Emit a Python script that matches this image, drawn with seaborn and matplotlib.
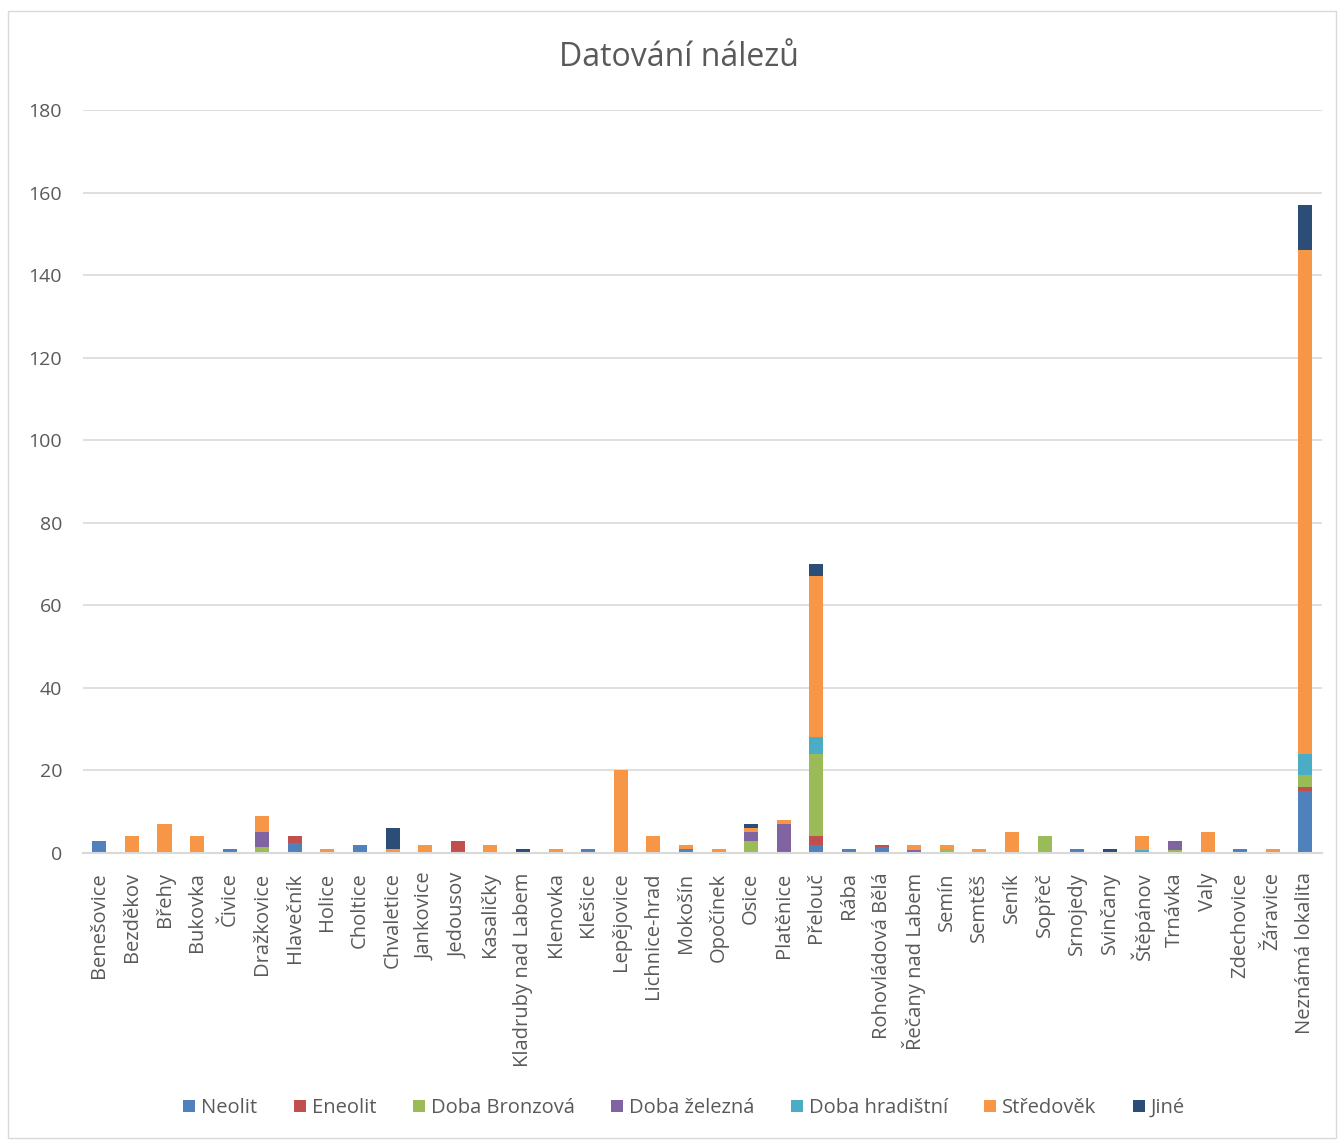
import matplotlib
matplotlib.use("Agg")
import matplotlib.pyplot as plt
import matplotlib.patches as mpatches
import seaborn as sns
import pandas as pd

locations = ["Benešovice", "Bezděkov", "Břehy", "Bukovka", "Čivice", "Dražkovice",
             "Hlavečník", "Holice", "Choltice", "Chvaletice", "Jankovice", "Jedousov",
             "Kasaličky", "Kladruby nad Labem", "Klenovka", "Klešice", "Lepějovice",
             "Lichnice-hrad", "Mokošín", "Opočínek", "Osice", "Platěnice", "Přelouč",
             "Rába", "Rohovládová Bělá", "Řečany nad Labem", "Semín", "Semtěš", "Seník",
             "Sopřeč", "Srnojedy", "Svinčany", "Štěpánov", "Trnávka", "Valy",
             "Zdechovice", "Žáravice", "Neznámá lokalita"]

periods = ["Neolit", "Eneolit", "Doba Bronzová", "Doba železná", "Doba hradištní", "Středověk", "Jiné"]

#                 Ben Bez Bře Buk Čiv Dra Hla Hol Cho Chv Jan Jed Kas Kla Kle Kleš Lep Lic Mok Opo Osi Pla Pře Ráb Roh Řeč Sem Semt Sen Sop Srn Svi Ště Trn Val Zde Žár Nez
neolit =         [3,  0,  0,  0,  1,  0,  2.3, 0, 2,  0,  0,  0,  0,  0,  0,  1,   0,  0,  1,  0,  0,  0,  2,  1, 1.5, 0,  0,  0,   0,  0,  1,  0,  0,  0,  0,  1,  0,  15]
eneolit =        [0,  0,  0,  0,  0,  0,  1.7, 0, 0,  0,  0,  3,  0,  0,  0,  0,   0,  0,  0,  0,  0,  0,  2,  0, 0.5, 0,  0,  0,   0,  0,  0,  0,  0,  0,  0,  0,  0,  1]
bronz =          [0,  0,  0,  0,  0, 1.5, 0,  0,  0,  0,  0,  0,  0,  0,  0,  0,   0,  0,  0,  0,  3,  0, 20,  0,  0,  0,  1,  0,   0,  4,  0,  0,  0, 0.8, 0,  0,  0,  3]
zelezna =        [0,  0,  0,  0,  0, 3.5, 0,  0,  0,  0,  0,  0,  0,  0,  0,  0,   0,  0,  0,  0,  2,  7,  0,  0,  0, 0.8, 0,  0,   0,  0,  0,  0,  0, 2.2, 0,  0,  0,  0]
hradistni =      [0,  0,  0,  0,  0,  0,  0,  0,  0,  0,  0,  0,  0,  0,  0,  0,   0,  0,  0,  0,  0,  0,  4,  0,  0,  0,  0,  0,   0,  0,  0,  0, 0.8, 0,  0,  0,  0,  5]
stredovek =      [0,  4,  7,  4,  0,  4,  0,  1,  0,  1,  2,  0,  2,  0,  1,  0,  20,  4,  1,  1,  1,  1, 39,  0,  0, 1.2, 1,  1,   5,  0,  0,  0, 3.2, 0,  5,  0,  1, 122]
jine =           [0,  0,  0,  0,  0,  0,  0,  0,  0,  5,  0,  0,  0,  1,  0,  0,   0,  0,  0,  0,  1,  0,  3,  0,  0,  0,  0,  0,   0,  0,  0,  1,  0,  0,  0,  0,  0,  11]

series = [neolit, eneolit, bronz, zelezna, hradistni, stredovek, jine]
colors = ["#4F81BD", "#C0504D", "#9BBB59", "#8064A2", "#4BACC6", "#F79646", "#2C4D75"]

yticks = [0, 20, 40, 60, 80, 100, 120, 140, 160, 180]

rows = []
for p, vals in zip(periods, series):
    for loc, v in zip(locations, vals):
        rows.append({"lokalita": loc, "obdobi": p, "pocet": v})
df = pd.DataFrame(rows)
df["lokalita"] = pd.Categorical(df["lokalita"], categories=locations, ordered=True)

sns.set_theme(style="white")
plt.rcParams["font.family"] = ["Open Sans", "DejaVu Sans"]

fig = plt.figure(figsize=(13.39, 11.40), dpi=100)
ax = fig.add_axes([0.062, 0.2518, 0.925, 0.6517])

rev_order = periods[::-1]
palette = dict(zip(periods, colors))
sns.histplot(data=df, x="lokalita", weights="pocet", hue="obdobi", hue_order=rev_order,
             multiple="stack", discrete=True, shrink=0.43, palette=palette,
             alpha=1, linewidth=0, legend=False, ax=ax)

ax.set_xlim(-0.5, len(locations) - 0.5)
ax.set_ylim(0, 180)
ax.set_yticks(yticks)
ax.set_yticklabels([str(t) for t in yticks], fontsize=14, color="#595959")
ax.set_xticks(range(len(locations)))
ax.set_xticklabels(locations, rotation=90, fontsize=14.5, color="#595959")
ax.tick_params(axis="y", length=0, pad=15)
ax.tick_params(axis="x", length=0, pad=14)
ax.set_xlabel("")
ax.set_ylabel("")
ax.grid(axis="y", color="#D9D9D9", linewidth=1.2)
ax.set_axisbelow(True)
for s in ["top", "right", "left"]:
    ax.spines[s].set_visible(False)
ax.spines["bottom"].set_color("#D9D9D9")
ax.spines["bottom"].set_linewidth(1.5)

fig.text(0.507, 0.95, "Datování nálezů", ha="center", va="center", fontsize=23, color="#595959")

handles = [mpatches.Patch(facecolor=c, edgecolor="none", label=p) for p, c in zip(periods, colors)]
fig.legend(handles=handles, loc="center", bbox_to_anchor=(0.511, 0.028), ncol=7, frameon=False,
           fontsize=14.5, handlelength=0.6, handleheight=0.6, handletextpad=0.3,
           columnspacing=1.8, labelcolor="#595959")

fig.patches.append(mpatches.Rectangle((0.006, 0.002), 0.992, 0.988, transform=fig.transFigure,
                                      fill=False, edgecolor="#D9D9D9", linewidth=1))

fig.savefig("out.png", dpi=100)
